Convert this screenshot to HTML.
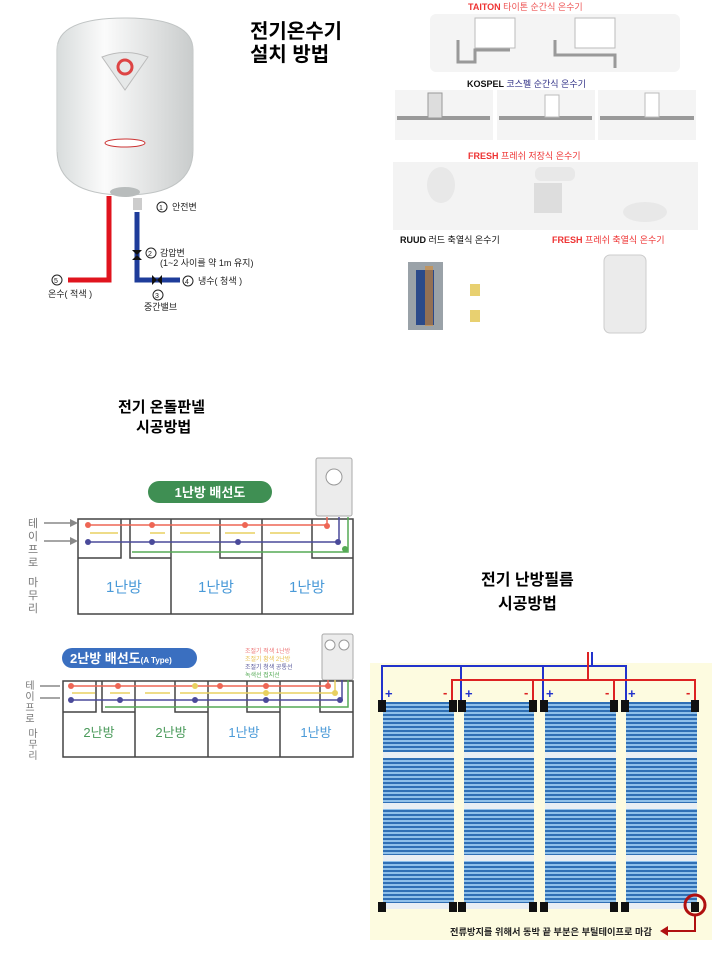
<!DOCTYPE html>
<html><head><meta charset="utf-8"><style>
html,body{margin:0;padding:0;background:#fff;}
svg{display:block;font-family:"Liberation Sans","Noto Sans CJK KR",sans-serif;}
.t{font-weight:bold;font-size:20px;fill:#000;}
</style></head><body>
<svg width="720" height="960" viewBox="0 0 720 960" xmlns="http://www.w3.org/2000/svg">
<defs>
<linearGradient id="wh" x1="0" x2="1"><stop offset="0" stop-color="#d8dcdc"/><stop offset=".35" stop-color="#fbfbfb"/><stop offset="1" stop-color="#c9cccc"/></linearGradient>
<pattern id="film" width="6" height="4" patternUnits="userSpaceOnUse"><rect width="6" height="4" fill="#8fc0ea"/><rect y="2" width="6" height="2" fill="#2f6fb5"/></pattern>
</defs>
<!-- water heater -->
<path d="M57 50 Q57 18 125 18 Q193 18 193 50 L193 150 Q193 195 125 195 Q57 195 57 150 Z" fill="url(#wh)" stroke="#c0c4c4"/>
<rect x="57" y="44" width="136" height="108" fill="url(#wh)" opacity=".6"/>
<path d="M102 57 Q125 48 148 57 L125 90 Z" fill="#e6e8e8" stroke="#bbb"/>
<circle cx="125" cy="67" r="7" fill="none" stroke="#d44" stroke-width="3"/>
<ellipse cx="125" cy="143" rx="20" ry="4" fill="#fff" stroke="#c33"/>
<ellipse cx="125" cy="192" rx="15" ry="5" fill="#b8bcbc"/>
<path d="M109 196 L109 280 L68 280" fill="none" stroke="#e0141e" stroke-width="5"/>
<rect x="133" y="198" width="9" height="12" fill="#ccc"/>
<path d="M137 212 L137 280 L180 280" fill="none" stroke="#1e3c9a" stroke-width="5"/>
<path d="M132 250 L142 250 L132 260 L142 260Z M152 275 L152 285 L162 275 L162 285Z" fill="#111"/>
<g font-size="9" fill="#222">
<circle cx="162" cy="207" r="5" fill="none" stroke="#222"/><text x="159" y="210" font-size="7">1</text><text x="172" y="210">안전변</text>
<circle cx="151" cy="253" r="5" fill="none" stroke="#222"/><text x="148" y="256" font-size="7">2</text><text x="160" y="256">감압변</text>
<text x="160" y="266">(1~2 사이를 약 1m 유지)</text>
<circle cx="188" cy="281" r="5" fill="none" stroke="#222"/><text x="185" y="284" font-size="7">4</text><text x="198" y="284">냉수( 청색 )</text>
<circle cx="158" cy="295" r="5" fill="none" stroke="#222"/><text x="155" y="298" font-size="7">3</text><text x="144" y="310">중간밸브</text>
<circle cx="57" cy="280" r="5" fill="none" stroke="#222"/><text x="54" y="283" font-size="7">5</text><text x="48" y="297">온수( 적색 )</text>
</g>
<text class="t" x="250" y="38">전기온수기</text>
<text class="t" x="250" y="61">설치 방법</text>
<!-- collage -->
<g>
<text x="468" y="10" font-size="9" font-weight="bold" fill="#e33">TAITON <tspan fill="#e55" font-weight="normal">타이톤 순간식 온수기</tspan></text>
<rect x="430" y="14" width="250" height="58" rx="6" fill="#f4f4f4"/>
<rect x="475" y="18" width="40" height="30" fill="#fff" stroke="#bbb"/><rect x="575" y="18" width="40" height="30" fill="#fff" stroke="#bbb"/>
<path d="M458 40 L458 62 L475 62 L475 50 L510 50 M555 40 L555 55 L615 55 L615 68" fill="none" stroke="#999" stroke-width="3"/>
<text x="467" y="87" font-size="9" font-weight="bold" fill="#111">KOSPEL <tspan fill="#338" font-weight="normal">코스펠 순간식 온수기</tspan></text>
<rect x="395" y="90" width="98" height="50" fill="#f4f4f4"/><rect x="497" y="90" width="98" height="50" fill="#f4f4f4"/><rect x="598" y="90" width="98" height="50" fill="#f4f4f4"/>
<path d="M397 118 L490 118 M499 118 L592 118 M600 118 L694 118" stroke="#999" stroke-width="4"/>
<rect x="428" y="93" width="14" height="25" fill="#ddd" stroke="#999"/><rect x="545" y="95" width="14" height="22" fill="#fff" stroke="#bbb"/><rect x="645" y="93" width="14" height="24" fill="#fff" stroke="#bbb"/>
<text x="468" y="159" font-size="9" font-weight="bold" fill="#e33">FRESH <tspan font-weight="normal">프레쉬 저장식 온수기</tspan></text>
<rect x="393" y="162" width="305" height="68" fill="#f3f3f3"/>
<ellipse cx="441" cy="185" rx="14" ry="18" fill="#e8e8e8"/><rect x="535" y="167" width="40" height="14" rx="6" fill="#e8e8e8"/><rect x="534" y="183" width="28" height="30" fill="#ddd"/><ellipse cx="645" cy="212" rx="22" ry="10" fill="#e8e8e8"/>
<text x="400" y="243" font-size="9" font-weight="bold" fill="#111">RUUD <tspan font-weight="normal">러드 축열식 온수기</tspan></text>
<text x="552" y="243" font-size="9" font-weight="bold" fill="#e33">FRESH <tspan font-weight="normal">프레쉬 축열식 온수기</tspan></text>
<rect x="408" y="262" width="35" height="68" fill="#9aa2a8"/><rect x="416" y="270" width="18" height="55" fill="#2b4a8a"/><rect x="425" y="266" width="8" height="60" fill="#d88a30" opacity=".6"/>
<rect x="470" y="284" width="10" height="12" fill="#e8d070"/><rect x="470" y="310" width="10" height="12" fill="#e8d070"/>
<rect x="604" y="255" width="42" height="78" rx="6" fill="#ebebeb" stroke="#ccc"/>
</g>
<!-- panel titles -->
<text x="118" y="412" font-size="15" font-weight="bold">전기 온돌판넬</text>
<text x="136" y="432" font-size="15" font-weight="bold">시공방법</text>
<text x="481" y="585" font-size="16" font-weight="bold">전기 난방필름</text>
<text x="498" y="609" font-size="16" font-weight="bold">시공방법</text>
<!-- diagram 1 -->
<rect x="148" y="481" width="124" height="22" rx="11" fill="#3f8f53"/>
<text x="210" y="497" font-size="13" font-weight="bold" fill="#fff" text-anchor="middle">1난방 배선도</text>
<rect x="316" y="458" width="36" height="58" rx="2" fill="#ececec" stroke="#aaa"/><circle cx="334" cy="477" r="8" fill="#fff" stroke="#999"/>
<g fill="none" stroke="#444" stroke-width="1.5">
<rect x="78" y="519" width="275" height="95"/><line x1="171" y1="519" x2="171" y2="614"/><line x1="262" y1="519" x2="262" y2="614"/>
<path d="M78 558 L121 558 L121 519 M130 519 L130 558 L171 558 M220 519 L220 558 L262 558 M312 519 L312 558 L353 558"/>
</g>
<g stroke-width="1.5" fill="none">
<path d="M88 525 L327 525 L327 517" stroke="#ee6655"/><path d="M88 542 L339 542 L339 517" stroke="#4a4a9a"/><path d="M132 552 L348 552 L348 517" stroke="#55aa55"/>
<path d="M90 533 L118 533 M150 533 L165 533 M180 533 L210 533 M225 533 L255 533 M270 533 L300 533" stroke="#e8d060"/>
</g>
<g fill="#ee6655"><circle cx="88" cy="525" r="3"/><circle cx="152" cy="525" r="3"/><circle cx="245" cy="525" r="3"/><circle cx="327" cy="526" r="3"/></g>
<g fill="#4a4a9a"><circle cx="88" cy="542" r="3"/><circle cx="152" cy="542" r="3"/><circle cx="238" cy="542" r="3"/><circle cx="338" cy="542" r="3"/></g>
<circle cx="345" cy="549" r="3" fill="#55aa55"/>
<g font-size="15" fill="#4a9ad8" text-anchor="middle"><text x="124" y="592">1난방</text><text x="216" y="592">1난방</text><text x="307" y="592">1난방</text></g>
<g font-size="11" fill="#777" text-anchor="middle"><text x="33" y="527">테</text><text x="33" y="540">이</text><text x="33" y="553">프</text><text x="33" y="566">로</text><text x="33" y="586">마</text><text x="33" y="599">무</text><text x="33" y="612">리</text></g>
<path d="M44 523 L74 523 M44 541 L74 541" stroke="#888" stroke-width="1.5"/><path d="M70 519 L78 523 L70 527Z M70 537 L78 541 L70 545Z" fill="#888"/>
<!-- diagram 2 -->
<rect x="62" y="648" width="135" height="20" rx="10" fill="#3a6fc0"/>
<text x="70" y="663" font-size="13" font-weight="bold" fill="#fff">2난방 배선도<tspan font-size="8">(A Type)</tspan></text>
<rect x="322" y="634" width="31" height="46" rx="2" fill="#ececec" stroke="#aaa"/><circle cx="330" cy="645" r="5" fill="#fff" stroke="#999"/><circle cx="344" cy="645" r="5" fill="#fff" stroke="#999"/>
<g font-size="6"><text x="245" y="653" fill="#e77">조절기 적색 1난방</text><text x="245" y="661" fill="#e8c050">조절기 황색 2난방</text><text x="245" y="669" fill="#559">조절기 청색 공통선</text><text x="245" y="677" fill="#5a5">녹색선 접지선</text></g>
<g fill="none" stroke="#444" stroke-width="1.5">
<rect x="63" y="681" width="290" height="76"/><line x1="135" y1="681" x2="135" y2="757"/><line x1="208" y1="681" x2="208" y2="757"/><line x1="280" y1="681" x2="280" y2="757"/>
<path d="M63 712 L96 712 L96 681 M102 681 L102 712 L135 712 M175 681 L175 712 L208 712 M247 681 L247 712 L280 712 M320 681 L320 712 L353 712"/>
</g>
<g stroke-width="1.5" fill="none">
<path d="M70 686 L328 686 L328 680" stroke="#ee6655"/><path d="M70 700 L342 700 L342 680" stroke="#4a4a9a"/><path d="M105 707 L348 707 L348 680" stroke="#55aa55"/>
<path d="M72 693 L95 693 M110 693 L130 693 M145 693 L170 693 M180 693 L195 693 L240 693 L335 693 L335 680" stroke="#e8d060"/>
</g>
<g fill="#ee6655"><circle cx="71" cy="686" r="3"/><circle cx="118" cy="686" r="3"/><circle cx="220" cy="686" r="3"/><circle cx="266" cy="686" r="3"/><circle cx="328" cy="686" r="3"/></g>
<g fill="#4a4a9a"><circle cx="71" cy="700" r="3"/><circle cx="120" cy="700" r="3"/><circle cx="195" cy="700" r="3"/><circle cx="266" cy="700" r="3"/><circle cx="340" cy="700" r="3"/></g>
<g fill="#e8d060"><circle cx="195" cy="686" r="3"/><circle cx="266" cy="693" r="3"/><circle cx="335" cy="693" r="3"/></g>
<g font-size="13" text-anchor="middle"><text x="99" y="737" fill="#4a9a5a">2난방</text><text x="171" y="737" fill="#4a9a5a">2난방</text><text x="244" y="737" fill="#4a9ad8">1난방</text><text x="316" y="737" fill="#4a9ad8">1난방</text></g>
<g font-size="10" fill="#777" text-anchor="middle"><text x="30" y="689">테</text><text x="30" y="700">이</text><text x="30" y="711">프</text><text x="30" y="722">로</text><text x="33" y="737">마</text><text x="33" y="748">무</text><text x="33" y="759">리</text></g>
<path d="M40 686 L60 686 M40 698 L60 698" stroke="#888" stroke-width="1.5"/>
<!-- film -->
<rect x="370" y="663" width="342" height="277" fill="#fdfbe0"/>
<g>
<rect x="383" y="702" width="71" height="206" fill="url(#film)"/><rect x="464" y="702" width="70" height="206" fill="url(#film)"/><rect x="545" y="702" width="71" height="206" fill="url(#film)"/><rect x="626" y="702" width="71" height="206" fill="url(#film)"/>
<g fill="#e8eef4"><rect x="383" y="752" width="314" height="6"/><rect x="383" y="803" width="314" height="6"/><rect x="383" y="855" width="314" height="6"/><rect x="383" y="903" width="314" height="6"/></g>
<g fill="#fdfbe0"><rect x="454" y="700" width="10" height="212"/><rect x="534" y="700" width="11" height="212"/><rect x="616" y="700" width="10" height="212"/></g>
</g>
<g fill="none" stroke-width="2">
<path d="M382 700 L382 666 L626 666 L626 700 M461 700 L461 666 M543 700 L543 666 M592 666 L592 652" stroke="#2233cc"/>
<path d="M452 700 L452 680 L695 680 L695 700 M533 700 L533 680 M614 700 L614 680 M588 680 L588 652" stroke="#dd2222"/>
</g>
<g font-size="13" font-weight="bold"><text x="385" y="698" fill="#2233cc">+</text><text x="443" y="697" fill="#dd2222">-</text><text x="465" y="698" fill="#2233cc">+</text><text x="524" y="697" fill="#dd2222">-</text><text x="546" y="698" fill="#2233cc">+</text><text x="605" y="697" fill="#dd2222">-</text><text x="628" y="698" fill="#2233cc">+</text><text x="686" y="697" fill="#dd2222">-</text></g>
<g fill="#111">
<rect x="378" y="700" width="8" height="12"/><rect x="449" y="700" width="8" height="12"/><rect x="458" y="700" width="8" height="12"/><rect x="529" y="700" width="8" height="12"/><rect x="540" y="700" width="8" height="12"/><rect x="610" y="700" width="8" height="12"/><rect x="621" y="700" width="8" height="12"/><rect x="691" y="700" width="8" height="12"/>
<rect x="378" y="902" width="8" height="10"/><rect x="449" y="902" width="8" height="10"/><rect x="458" y="902" width="8" height="10"/><rect x="529" y="902" width="8" height="10"/><rect x="540" y="902" width="8" height="10"/><rect x="610" y="902" width="8" height="10"/><rect x="621" y="902" width="8" height="10"/><rect x="691" y="902" width="8" height="10"/>
</g>
<circle cx="695" cy="905" r="10" fill="none" stroke="#b01010" stroke-width="3"/>
<path d="M695 915 L695 931 L666 931" fill="none" stroke="#b01010" stroke-width="2"/><path d="M660 931 L668 926 L668 936Z" fill="#b01010"/>
<text x="450" y="935" font-size="9" font-weight="bold" fill="#222" textLength="202" lengthAdjust="spacingAndGlyphs">전류방지를 위해서  동박 끝 부분은 부틸테이프로 마감</text>
</svg>
</body></html>
